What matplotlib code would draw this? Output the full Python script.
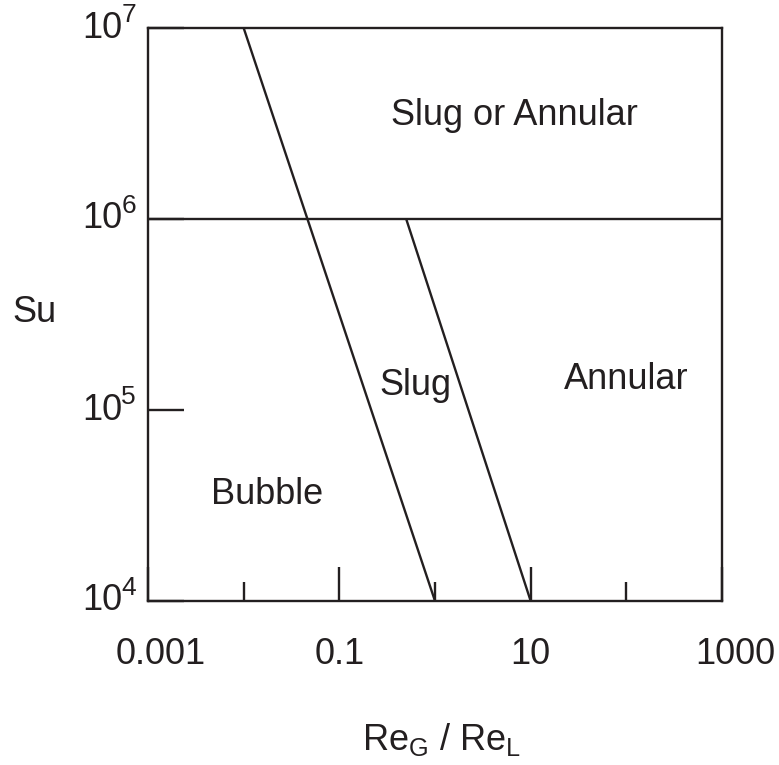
import numpy as np
import matplotlib
matplotlib.use("Agg")
import matplotlib.pyplot as plt
import matplotlib.transforms as mtransforms
from matplotlib.ticker import FixedLocator, NullFormatter

plt.rcParams['font.family'] = 'Liberation Sans'
plt.rcParams['mathtext.fontset'] = 'custom'
plt.rcParams['mathtext.rm'] = 'Liberation Sans'
plt.rcParams['mathtext.it'] = 'Liberation Sans:italic'

ink = '#231f20'

# boundary lines (Re_G/Re_L, Su)
bubble_slug_x = [0.01, 1.0]
bubble_slug_y = [1e7, 1e4]
slug_annular_x = [0.5, 10.0]
slug_annular_y = [1e6, 1e4]
top_x = [0.001, 1000]
top_y = [1e6, 1e6]

# region labels
regions = ["Slug or Annular", "Slug", "Annular", "Bubble"]
region_x = [6.7, 0.62, 100, 0.0175]
region_y = [3.5e6, 1.35e5, 1.44e5, 3.6e4]

xticks_major = [0.001, 0.1, 10, 1000]
xtick_labels = ["0.001", "0.1", "10", "1000"]
xticks_minor = [0.01, 1, 100]
yticks = [1e4, 1e5, 1e6, 1e7]
ytick_exps = ["4", "5", "6", "7"]

fig = plt.figure(figsize=(7.79, 7.65), dpi=100)
ax = fig.add_axes([148/779, 1-601/765, 574/779, 573/765])

for xs, ys in [(bubble_slug_x, bubble_slug_y), (slug_annular_x, slug_annular_y), (top_x, top_y)]:
    ax.plot(xs, ys, color=ink, lw=1.7, solid_capstyle='butt')

for name, x, y in zip(regions, region_x, region_y):
    ax.text(x, y, name, fontsize=26, color=ink, ha='center', va='center')

ax.set_xscale('log')
ax.set_yscale('log')
ax.set_xlim(0.001, 1000)
ax.set_ylim(1e4, 1e7)

ax.xaxis.set_major_locator(FixedLocator(xticks_major))
ax.set_xticklabels(xtick_labels)
ax.xaxis.set_minor_locator(FixedLocator(xticks_minor))
ax.xaxis.set_minor_formatter(NullFormatter())
ax.yaxis.set_major_locator(FixedLocator(yticks))
ax.set_yticklabels([])
ax.yaxis.set_minor_locator(FixedLocator([]))

ax.tick_params(axis='x', which='major', direction='in', length=24.5, width=1.7,
               color=ink, labelcolor=ink, labelsize=26, pad=26)
ax.tick_params(axis='x', which='minor', direction='in', length=13.5, width=1.7, color=ink)
ax.tick_params(axis='y', which='major', direction='in', length=26, width=1.7, color=ink)

# end labels sit a bit right of their ticks in the original
labs = ax.get_xticklabels()
for lab in (labs[0], labs[-1]):
    lab.set_transform(lab.get_transform() + mtransforms.ScaledTranslation(13/100, 0, fig.dpi_scale_trans))

# y tick labels: "10" with a large superscript exponent
ytrans = mtransforms.blended_transform_factory(ax.transAxes, ax.transData)
for y, e in zip(yticks, ytick_exps):
    ax.text(-12/574, y, "10", fontsize=26, color=ink, ha='right', va='center',
            transform=ytrans + mtransforms.ScaledTranslation(-14/100, 0, fig.dpi_scale_trans))
    ax.text(-12/574, y, e, fontsize=19, color=ink, ha='right', va='center',
            transform=ytrans + mtransforms.ScaledTranslation(0, 13/100, fig.dpi_scale_trans))

for s in ax.spines.values():
    s.set_linewidth(1.7)
    s.set_color(ink)

ax.set_xlabel(r"Re$_\mathrm{G}$ / Re$_\mathrm{L}$", fontsize=26, color=ink, va='baseline')
ax.xaxis.set_label_coords((442-148)/574, (601-750)/573)
ax.set_ylabel("Su", fontsize=26, color=ink, rotation=0, va='center', ha='center')
ax.yaxis.set_label_coords((34-148)/574, (601-313)/573)

fig.savefig("out.png", dpi=100)
